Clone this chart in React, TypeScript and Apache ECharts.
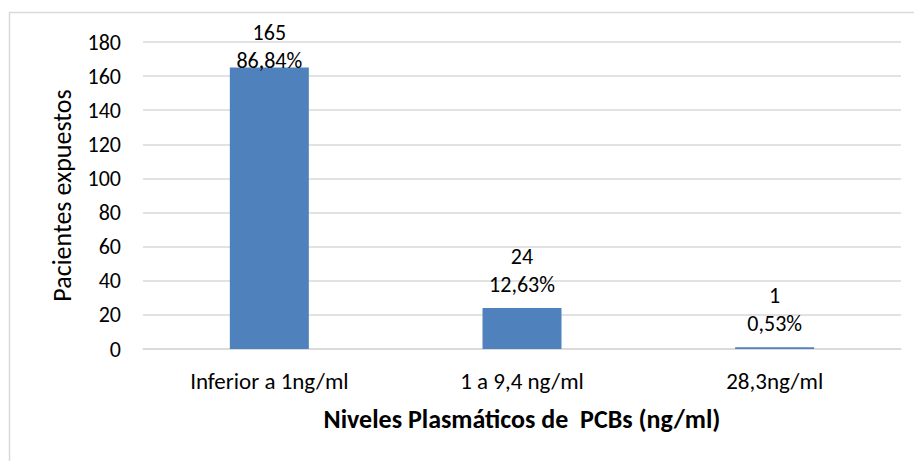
import React, { useEffect, useRef } from "react";
import * as echarts from "echarts";

const categories = ["Inferior a 1ng/ml", "1 a 9,4 ng/ml", "28,3ng/ml"];
const values = [165, 24, 1];
const percents = ["86,84%", "12,63%", "0,53%"];
const labelDistances = [-7, 10, 10];

const FONT = "Calibri, Carlito, Lato, sans-serif";

export default function App() {
  const ref = useRef<HTMLDivElement>(null);
  useEffect(() => {
    if (!ref.current) return;
    const chart = echarts.init(ref.current, undefined, { renderer: "svg" });
    chart.setOption({
      animation: false,
      backgroundColor: "#ffffff",
      textStyle: { fontFamily: FONT },
      graphic: [
        {
          type: "rect",
          shape: { x: 9.5, y: 12.5, width: 1000, height: 1000 },
          style: { fill: "none", stroke: "#d9d9d9", lineWidth: 1.5 },
          silent: true,
        },
      ],
      grid: { left: 143, right: 13, top: 42, bottom: 112, containLabel: false },
      xAxis: {
        type: "category",
        data: categories,
        name: "Niveles Plasmáticos de  PCBs (ng/ml)",
        nameLocation: "middle",
        nameGap: 57,
        nameTextStyle: { fontFamily: FONT, fontSize: 26, fontWeight: "bold", color: "#000" },
        axisLine: { show: true, lineStyle: { color: "#d9d9d9", width: 1.5 } },
        axisTick: { show: false },
        axisLabel: { margin: 20, fontSize: 23, color: "#000", fontFamily: FONT },
      },
      yAxis: {
        type: "value",
        min: 0,
        max: 180,
        interval: 20,
        name: "Pacientes expuestos",
        nameLocation: "middle",
        nameGap: 68,
        nameTextStyle: { fontFamily: FONT, fontSize: 26, color: "#000" },
        axisLine: { show: false },
        axisTick: { show: false },
        splitLine: { lineStyle: { color: "#d9d9d9", width: 1.5 } },
        axisLabel: { margin: 22, fontSize: 22, color: "#000", fontFamily: FONT },
      },
      series: [
        {
          type: "bar",
          barWidth: 79,
          itemStyle: { color: "#4f81bd" },
          data: values.map((v, i) => ({
            value: v,
            label: {
              show: true,
              position: "top",
              distance: labelDistances[i],
              formatter: () => `${v}\n${percents[i]}`,
              fontSize: 22,
              lineHeight: 28,
              color: "#000",
              fontFamily: FONT,
            },
          })),
        },
      ],
    });
    return () => chart.dispose();
  }, []);
  return (
    <div
      ref={ref}
      style={{ position: "fixed", left: 0, top: 0, width: 914, height: 461 }}
    />
  );
}
